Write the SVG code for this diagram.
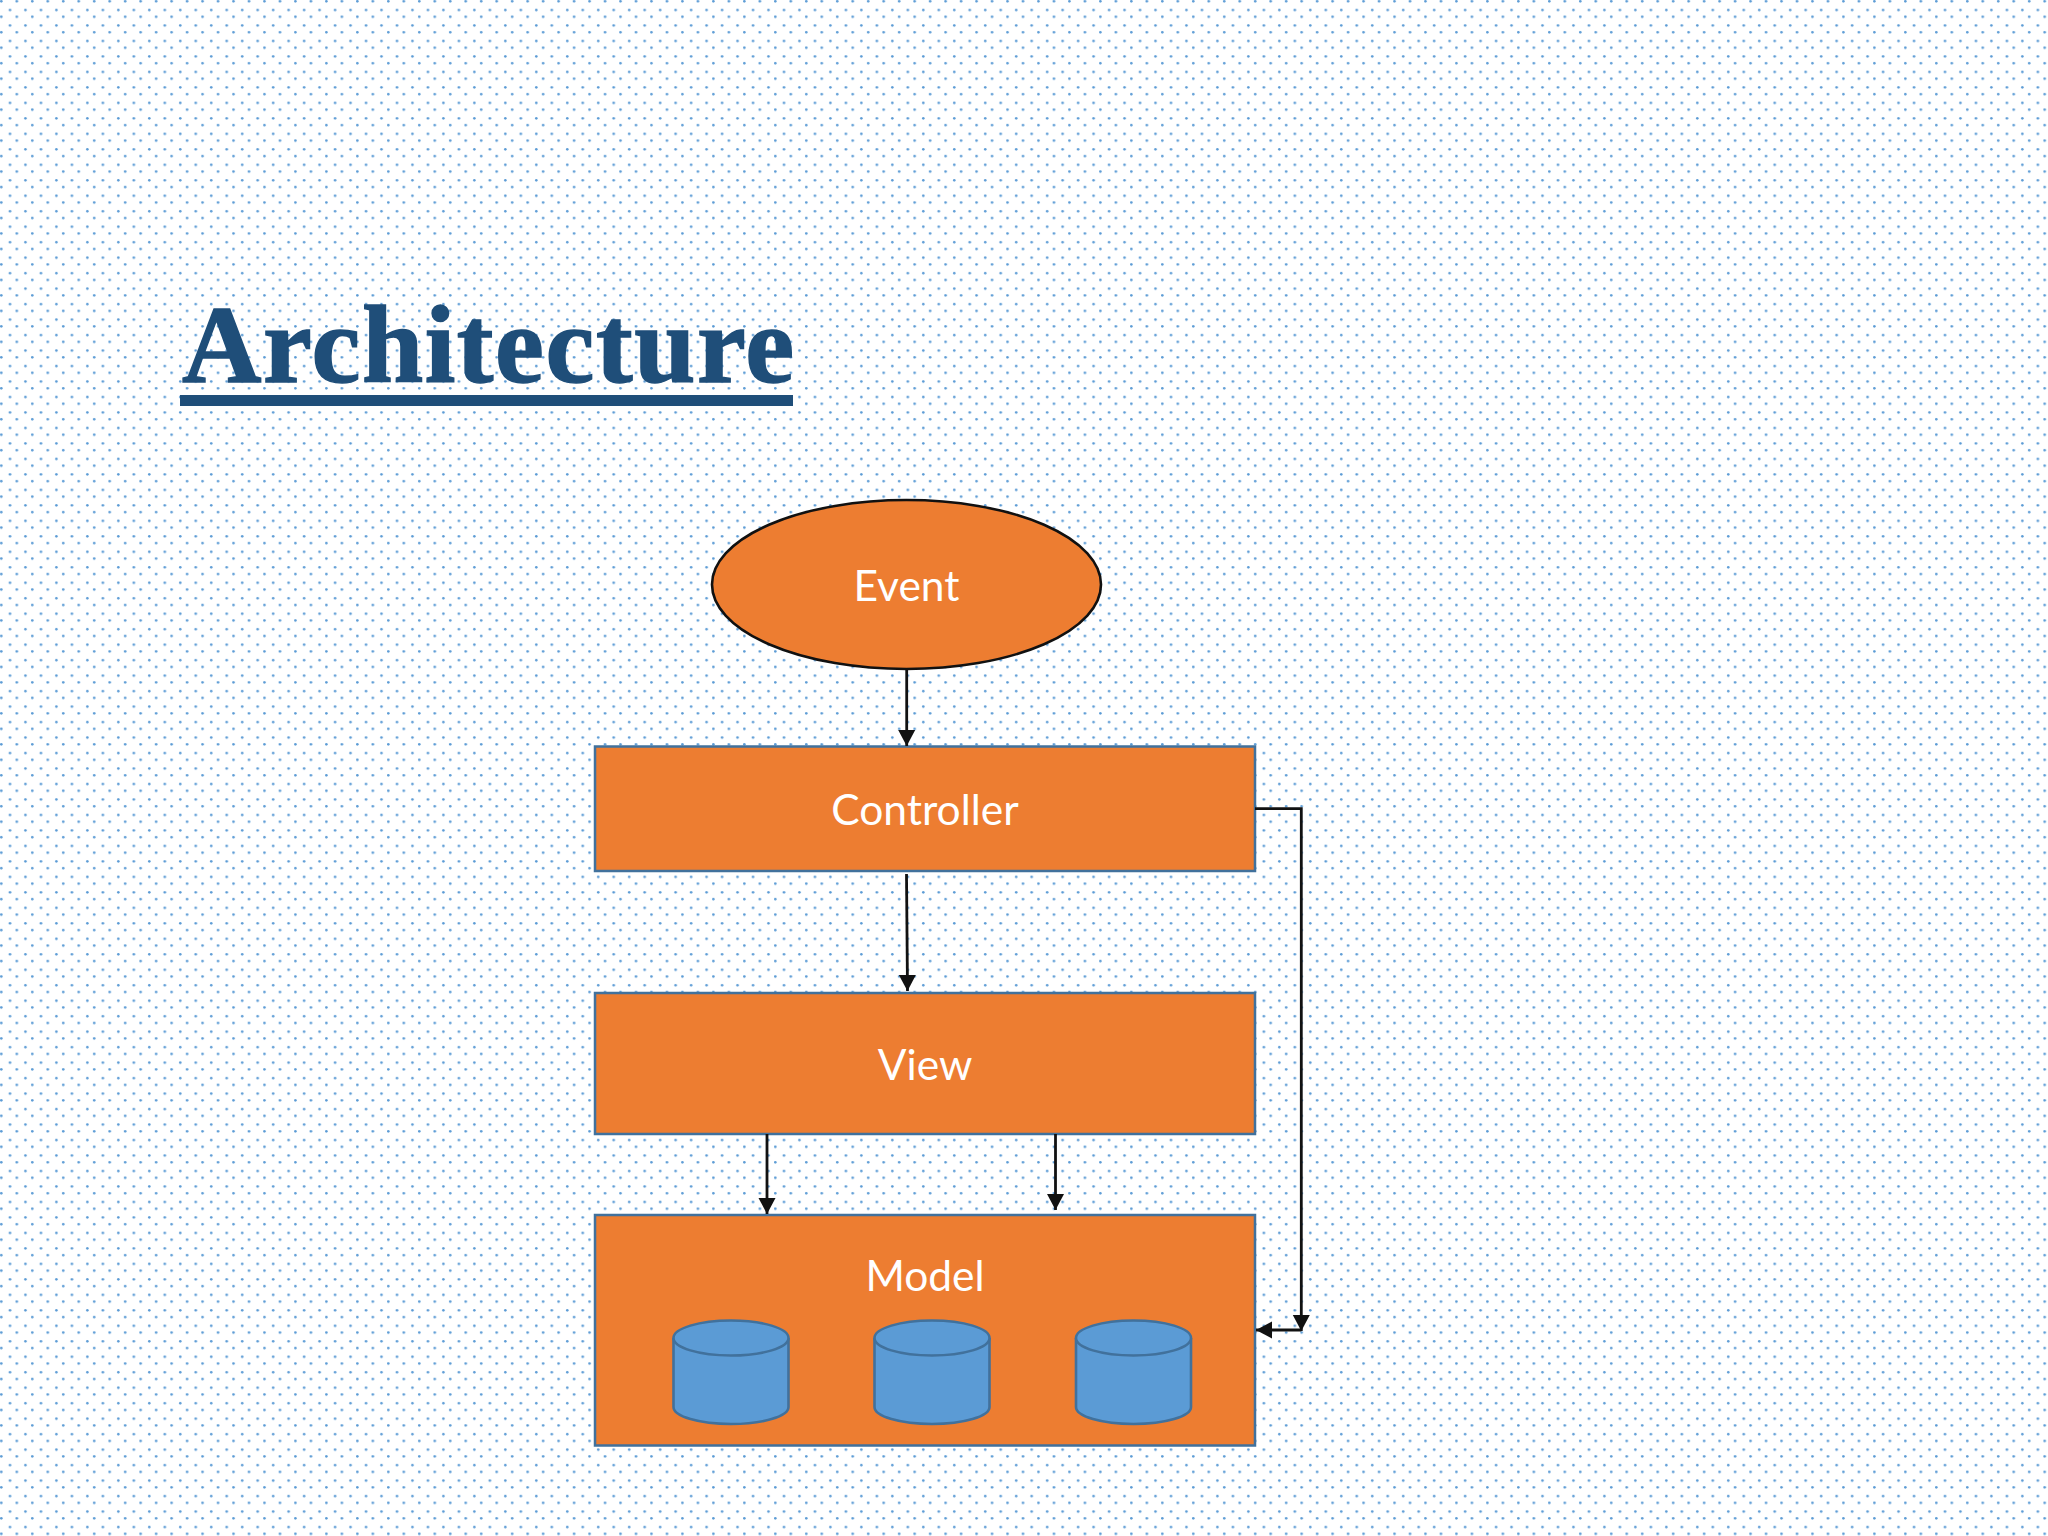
<svg xmlns="http://www.w3.org/2000/svg" width="2048" height="1536" viewBox="0 0 2048 1536">
  <style>
    .box { fill: #ed7d31; stroke: #41719c; stroke-width: 2.5; }
    .lbl { font-family: "Lato", "Liberation Sans", sans-serif; font-size: 42.5px; fill: #ffffff; text-anchor: middle; }
    .cyl { fill: #5b9bd5; stroke: #41719c; stroke-width: 2.6; }
    .conn { fill: none; stroke: #111111; stroke-width: 2.8; }
  </style>
  <defs>
    <pattern id="dots" patternUnits="userSpaceOnUse" x="0" y="0" width="15.48" height="15.48">
      <circle cx="1.3" cy="1.3" r="1.3" fill="#5b9bd5"/>
      <circle cx="10" cy="10" r="1.3" fill="#5b9bd5"/>
    </pattern>
    <marker id="arrow" markerUnits="userSpaceOnUse" markerWidth="18" markerHeight="18" refX="16" refY="9" orient="auto">
      <path d="M0 0.5L16 9L0 17.5Z" fill="#111111"/>
    </marker>
    <g id="cylinder">
      <path class="cyl" d="M0 17.5V86.5C0 96 26 103.5 57.5 103.5S115 96 115 86.5V17.5"/>
      <ellipse class="cyl" cx="57.5" cy="17.5" rx="57.5" ry="17.5"/>
    </g>
  </defs>
  <rect id="background" width="2048" height="1536" fill="#ffffff"/>
  <rect id="dot-pattern" width="2048" height="1536" fill="url(#dots)"/>
  <g id="title">
    <text x="182" y="382" font-family="Liberation Serif, serif" font-weight="700" font-size="110" letter-spacing="1.6" fill="#1f4e79" stroke="#1f4e79" stroke-width="1.5">Architecture</text>
    <rect x="180" y="395" width="613" height="11" fill="#1f4e79"/>
  </g>
  <g id="event">
    <ellipse cx="906.5" cy="584.5" rx="194.5" ry="84.5" fill="#ed7d31" stroke="#111111" stroke-width="2.6"/>
    <text class="lbl" x="906.5" y="601">Event</text>
  </g>
  <g id="controller">
    <rect class="box" x="595" y="746.5" width="660" height="124.5"/>
    <text class="lbl" x="925" y="825">Controller</text>
  </g>
  <g id="view">
    <rect class="box" x="595" y="993" width="660" height="141"/>
    <text class="lbl" x="925" y="1080">View</text>
  </g>
  <g id="model">
    <rect class="box" x="595" y="1215" width="660" height="230.5"/>
    <text class="lbl" x="925" y="1291">Model</text>
    <use href="#cylinder" x="673.5" y="1320.5"/>
    <use href="#cylinder" x="874.5" y="1320.5"/>
    <use href="#cylinder" x="1076" y="1320.5"/>
  </g>
  <g id="connectors">
    <path class="conn" marker-end="url(#arrow)" d="M906.7 669V746"/>
    <path class="conn" marker-end="url(#arrow)" d="M906.5 874L907.5 991"/>
    <path class="conn" marker-end="url(#arrow)" d="M767 1134V1214"/>
    <path class="conn" marker-end="url(#arrow)" d="M1055.5 1134V1210"/>
    <path class="conn" marker-end="url(#arrow)" d="M1255 808.7H1301.3V1331"/>
    <path class="conn" marker-end="url(#arrow)" d="M1301.3 1330H1256"/>
  </g>
</svg>
